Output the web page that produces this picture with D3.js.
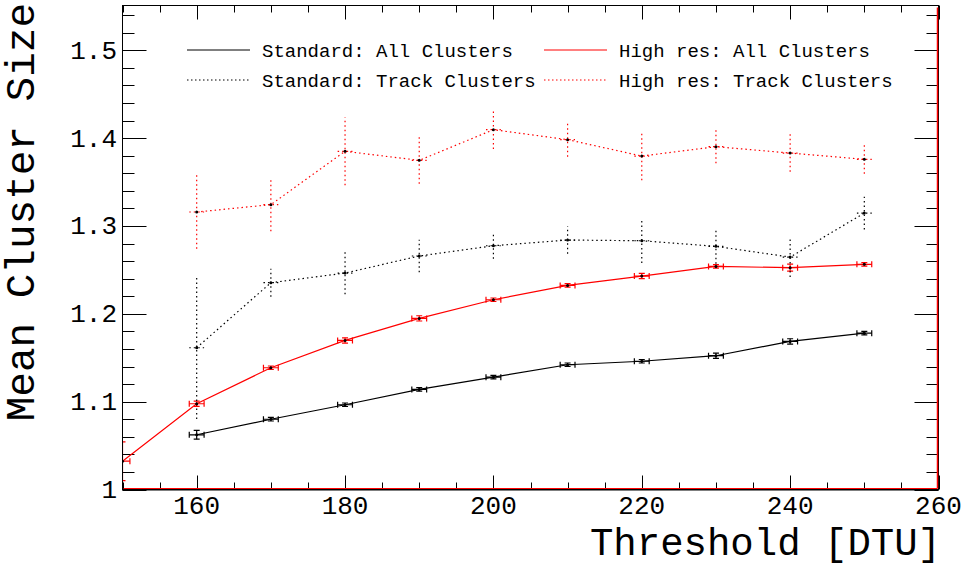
<!DOCTYPE html>
<html><head><meta charset="utf-8">
<script src="https://cdn.jsdelivr.net/npm/d3@7"></script>
<style>body{margin:0;background:#fff}svg{display:block}text{font-family:"Liberation Mono","Courier New",monospace}</style>
</head><body>
<script>
const thresholds = [160,170,180,190,200,210,220,230,240,250];
const thresholdsHR = [150,160,170,180,190,200,210,220,230,240,250];
const stdAll = [1.0623,1.0800,1.0965,1.1139,1.1279,1.1420,1.1460,1.1523,1.1686,1.1780];
const stdAllErr = [0.005,0.002,0.002,0.002,0.002,0.002,0.002,0.003,0.003,0.002];
const hrAll = [1.0322,1.0976,1.1386,1.1697,1.1948,1.2160,1.2323,1.2430,1.2540,1.2525,1.2563];
const hrAllErr = [0.022,0.003,0.002,0.003,0.003,0.002,0.002,0.003,0.002,0.004,0.002];
const stdTrk = [1.1614,1.2354,1.2464,1.2658,1.2775,1.2840,1.2832,1.2768,1.2646,1.3147];
const stdTrkErr = [0.081,0.016,0.024,0.0186,0.0148,0.0156,0.0254,0.0197,0.0228,0.0186];
const hrTrk = [1.3159,1.3243,1.3850,1.3747,1.4096,1.3983,1.3796,1.3903,1.3830,1.3759];
const hrTrkErr = [0.0418,0.0304,0.0387,0.0266,0.022,0.0194,0.0274,0.019,0.0213,0.0165];
const xErr = 1;
const xTicks = [160,180,200,220,240,260];
const yTicks = [1,1.1,1.2,1.3,1.4,1.5];
const legendLabels = ["Standard: All Clusters","Standard: Track Clusters","High res: All Clusters","High res: Track Clusters"];

const W=966,H=567;
const L=122.5,R=938.5,T=5.5,B=489.5;
const svg=d3.select("body").append("svg").attr("width",W).attr("height",H);
const x=d3.scaleLinear().domain([150,260]).range([L,R]);
const y=d3.scaleLinear().domain([1,1.551]).range([B,T]);

svg.append("clipPath").attr("id","clip").append("rect").attr("x",L).attr("y",T).attr("width",R-L).attr("height",B-T);

// ticks
const g=svg.append("g").attr("stroke","#000").attr("stroke-width",1);
for(let v=150;v<=260;v+=5){
  const major=(v%20===0);
  const len=major?14:7;
  const px=Math.round(x(v))+0.5;
  g.append("line").attr("x1",px).attr("x2",px).attr("y1",B).attr("y2",B-len);
  g.append("line").attr("x1",px).attr("x2",px).attr("y1",T).attr("y2",T+len);
}
for(let i=0;i<=27;i++){
  const v=1+i*0.02;
  const major=(i%5===0);
  const len=major?24:12;
  const py=Math.round(y(v))+0.5;
  g.append("line").attr("x1",L).attr("x2",L+len).attr("y1",py).attr("y2",py);
  g.append("line").attr("x1",R).attr("x2",R-len).attr("y1",py).attr("y2",py);
}
// tick labels
svg.selectAll(".xl").data(xTicks).enter().append("text").attr("x",d=>x(d)).attr("y",514)
  .attr("text-anchor","middle").attr("font-size",26).text(d=>d);
svg.selectAll(".yl").data(yTicks).enter().append("text").attr("x",117).attr("y",d=>y(d)+8.5)
  .attr("text-anchor","end").attr("font-size",26).text(d=>d3.format("")(d));
// titles
svg.append("text").attr("x",941).attr("y",555).attr("text-anchor","end").attr("font-size",39).text("Threshold [DTU]");
svg.append("text").attr("transform","translate(34,3) rotate(-90)").attr("text-anchor","end").attr("font-size",41).text("Mean Cluster Size");

function drawSeries(xs,vals,errs,color,dotted,caps){
  const gg=svg.append("g").attr("clip-path","url(#clip)");
  const dash=dotted?"1.5,3":null;
  const line=d3.line().x((d,i)=>x(xs[i])).y(d=>y(d));
  gg.append("path").attr("d",line(vals)).attr("fill","none").attr("stroke",color).attr("stroke-width",1.2).attr("stroke-dasharray",dash);
  vals.forEach((v,i)=>{
    const cx=x(xs[i]),cy=y(v);
    const e=gg.append("g").attr("stroke",color).attr("stroke-width",1.2).attr("stroke-dasharray",dash);
    e.append("line").attr("x1",x(xs[i]-xErr)).attr("x2",x(xs[i]+xErr)).attr("y1",cy).attr("y2",cy);
    e.append("line").attr("x1",cx).attr("x2",cx).attr("y1",y(v-errs[i])).attr("y2",y(v+errs[i]));
    if(caps){
      e.append("line").attr("x1",x(xs[i]-xErr)).attr("x2",x(xs[i]-xErr)).attr("y1",cy-3).attr("y2",cy+3);
      e.append("line").attr("x1",x(xs[i]+xErr)).attr("x2",x(xs[i]+xErr)).attr("y1",cy-3).attr("y2",cy+3);
      e.append("line").attr("x1",cx-3).attr("x2",cx+3).attr("y1",y(v-errs[i])).attr("y2",y(v-errs[i]));
      e.append("line").attr("x1",cx-3).attr("x2",cx+3).attr("y1",y(v+errs[i])).attr("y2",y(v+errs[i]));
    }
    gg.append("circle").attr("cx",cx).attr("cy",cy).attr("r",1.5).attr("fill","#000");
  });
}
drawSeries(thresholds,stdAll,stdAllErr,"#000",false,true);
drawSeries(thresholdsHR,hrAll,hrAllErr,"#ff0000",false,true);
drawSeries(thresholds,stdTrk,stdTrkErr,"#000",true,false);
drawSeries(thresholds,hrTrk,hrTrkErr,"#ff0000",true,false);

// frame
svg.append("rect").attr("x",L).attr("y",T).attr("width",R-L).attr("height",B-T).attr("fill","none").attr("stroke","#000").attr("stroke-width",1);
svg.append("line").attr("x1",L).attr("x2",R).attr("y1",B+0.5).attr("y2",B+0.5).attr("stroke","#000");
svg.append("line").attr("x1",L+1).attr("x2",R-1).attr("y1",B-1).attr("y2",B-1).attr("stroke","#ff0000").attr("stroke-width",1);
svg.append("line").attr("x1",R-1).attr("x2",R-1).attr("y1",T+2).attr("y2",B-1).attr("stroke","#ff0000").attr("stroke-width",1.5);

// legend
const leg=[{c:"#000",d:null,x1:187,tx:262,y:50},{c:"#000",d:"1.5,2.5",x1:187,tx:262,y:80},
           {c:"#ff0000",d:null,x1:544,tx:619,y:50},{c:"#ff0000",d:"1.5,2.5",x1:544,tx:619,y:80}];
leg.forEach((l,i)=>{
  svg.append("line").attr("x1",l.x1).attr("x2",l.x1+63).attr("y1",l.y).attr("y2",l.y).attr("stroke",l.c).attr("stroke-width",1).attr("stroke-dasharray",l.d);
  svg.append("text").attr("x",l.tx).attr("y",l.y+6.5).attr("font-size",19).text(legendLabels[i]);
});
</script>
</body></html>
